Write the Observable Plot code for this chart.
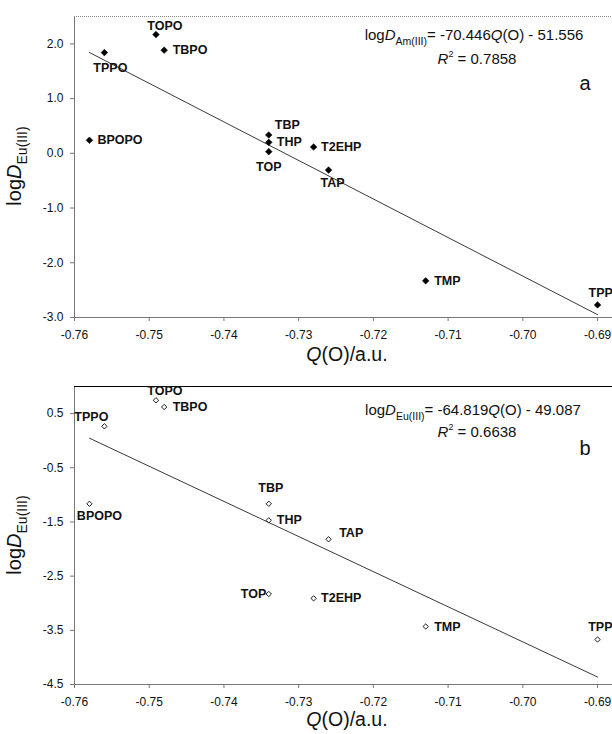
<!DOCTYPE html>
<html>
<head>
<meta charset="utf-8">
<script src="https://cdn.jsdelivr.net/npm/d3@7"></script>
<script src="https://cdn.jsdelivr.net/npm/@observablehq/plot@0.6"></script>
<style>
  html, body { margin: 0; padding: 0; background: #fff; }
  #chart svg { display: block; overflow: visible; }
</style>
</head>
<body>
<div id="chart"></div>
<script>
// ---- data ----
const extractants = ["TOPO","TBPO","TPPO","BPOPO","TBP","THP","TOP","T2EHP","TAP","TMP","TPP"];
const chargeQ   = [-0.7491,-0.7480,-0.7560,-0.7580,-0.7340,-0.7340,-0.7340,-0.7280,-0.7260,-0.7130,-0.6900];
const logDAm    = [2.17, 1.885, 1.84, 0.238, 0.335, 0.20, 0.03, 0.115, -0.306, -2.33, -2.77];
const logDEu    = [0.746, 0.622, 0.265, -1.165, -1.165, -1.47, -2.83, -2.91, -1.82, -3.43, -3.67];
const fitQ      = [-0.758, -0.690];
const fitAm     = [1.842, -2.948];
const fitEu     = [0.046, -4.362];
const xTicks    = [-0.76, -0.75, -0.74, -0.73, -0.72, -0.71, -0.70, -0.69];
const yTicksA   = [-3, -2, -1, 0, 1, 2];
const yTicksB   = [-4.5, -3.5, -2.5, -1.5, -0.5, 0.5];

// ---- label placement (layout) ----
const placeA = {
  TOPO:["middle",9,-9], TBPO:["start",8.5,0], TPPO:["middle",6,15], BPOPO:["start",8,0],
  TBP:["start",6,-10], THP:["start",8,0], TOP:["middle",0,15], T2EHP:["start",7.5,0],
  TAP:["middle",4,13], TMP:["start",8.5,0], TPP:["start",-9,-12]
};
const placeB = {
  TOPO:["middle",9,-9.3], TBPO:["start",8.5,0], TPPO:["middle",-13,-9], BPOPO:["middle",10,12],
  TBP:["middle",2,-15.6], THP:["start",8,0], TOP:["end",-2.5,0], T2EHP:["start",7.5,0],
  TAP:["start",10.6,-6], TMP:["start",8.5,0], TPP:["start",-9.4,-13]
};

const font = "'Liberation Sans', Arial, sans-serif";
const fmt2 = d => d.toFixed(2);
const fmt1 = d => d.toFixed(1);

function panel({yvals, fit, yDomain, yTicks, place, filled, marginTop, topRule}) {
  const rows = extractants.map((name, i) => ({name, q: chargeQ[i], v: yvals[i]}));
  const line = fitQ.map((q, i) => ({q, v: fit[i]}));
  const labels = rows.map(r => {
    const [anchor, dx, dy] = place[r.name];
    return Plot.text([r], {x: "q", y: "v", text: "name", textAnchor: anchor, dx, dy,
      fontWeight: "bold", fontSize: 12.5, fill: "#111"});
  });
  return Plot.plot({
    width: 612, height: 367,
    marginLeft: 74, marginRight: 0, marginTop, marginBottom: 50,
    style: {fontFamily: font, fontSize: "12px", color: "#111", background: "#fff", overflow: "visible"},
    x: {domain: [-0.76, -0.688]},
    y: {domain: yDomain},
    marks: [
      Plot.axisX({ticks: xTicks, tickFormat: fmt2, tickSize: 4, tickPadding: 9, label: null, stroke: "#777"}),
      Plot.axisY({ticks: yTicks, tickFormat: fmt1, tickSize: 4, tickPadding: 7, label: null, stroke: "#777"}),
      Plot.ruleY([yDomain[0]], {stroke: "#777"}),
      Plot.ruleX([-0.76], {stroke: "#777"}),
      Plot.ruleY([yDomain[1]], topRule),
      Plot.line(line, {x: "q", y: "v", stroke: "#222", strokeWidth: 0.9}),
      Plot.dot(rows, {x: "q", y: "v", symbol: "diamond2", r: filled ? 3 : 2.4,
        fill: filled ? "#000" : "#fff", stroke: "#000", strokeWidth: filled ? 0.5 : 0.9}),
      ...labels
    ]
  });
}

function addText(svg, {x, y, anchor = "middle", size, parts, rotate = false}) {
  const t = d3.select(svg).append("text")
    .attr("font-family", font).attr("font-size", size).attr("fill", "#111")
    .attr("text-anchor", anchor);
  if (rotate) t.attr("transform", `translate(${x},${y}) rotate(-90)`);
  else t.attr("x", x).attr("y", y);
  let shift = 0;
  for (const p of parts) {
    const s = t.append("tspan").text(p.t);
    if (p.i) s.attr("font-style", "italic");
    const target = p.sub ? 0.32 : (p.sup ? -0.45 : 0);
    if (p.sub || p.sup) s.attr("font-size", p.sub ? size * 0.7 : size * 0.6);
    const dy = (target - shift) * size;
    if (dy !== 0) s.attr("dy", dy);
    shift = target;
  }
}

const chart = document.getElementById("chart");

// Panel a
const svgA = panel({yvals: logDAm, fit: fitAm, yDomain: [-3, 2.5], yTicks: yTicksA, place: placeA,
  filled: true, marginTop: 16, topRule: {stroke: "#888", strokeDasharray: "1,1"}});
chart.appendChild(svgA);
addText(svgA, {x: 474, y: 40, size: 15, parts: [
  {t: "log"}, {t: "D", i: true}, {t: "Am(III)", sub: true}, {t: "= -70.446"}, {t: "Q", i: true}, {t: "(O) - 51.556"}]});
addText(svgA, {x: 477, y: 63.5, size: 15, parts: [
  {t: "R", i: true}, {t: "2", sup: true}, {t: " = 0.7858"}]});
addText(svgA, {x: 585, y: 90, size: 20, parts: [{t: "a"}]});
addText(svgA, {x: 347, y: 361, size: 19.5, parts: [{t: "Q", i: true}, {t: "(O)/a.u."}]});
addText(svgA, {x: 21, y: 166, size: 20, rotate: true, parts: [
  {t: "log"}, {t: "D", i: true}, {t: "Eu(III)", sub: true}]});

// Panel b
const svgB = panel({yvals: logDEu, fit: fitEu, yDomain: [-4.5, 1.0], yTicks: yTicksB, place: placeB,
  filled: false, marginTop: 19, topRule: {stroke: "#000", strokeWidth: 1.2}});
chart.appendChild(svgB);
addText(svgB, {x: 473, y: 47.7, size: 15, parts: [
  {t: "log"}, {t: "D", i: true}, {t: "Eu(III)", sub: true}, {t: "= -64.819"}, {t: "Q", i: true}, {t: "(O) - 49.087"}]});
addText(svgB, {x: 477, y: 70, size: 15, parts: [
  {t: "R", i: true}, {t: "2", sup: true}, {t: " = 0.6638"}]});
addText(svgB, {x: 585, y: 88, size: 20, parts: [{t: "b"}]});
addText(svgB, {x: 347, y: 359, size: 19.5, parts: [{t: "Q", i: true}, {t: "(O)/a.u."}]});
addText(svgB, {x: 21, y: 168, size: 20, rotate: true, parts: [
  {t: "log"}, {t: "D", i: true}, {t: "Eu(III)", sub: true}]});
</script>
</body>
</html>
